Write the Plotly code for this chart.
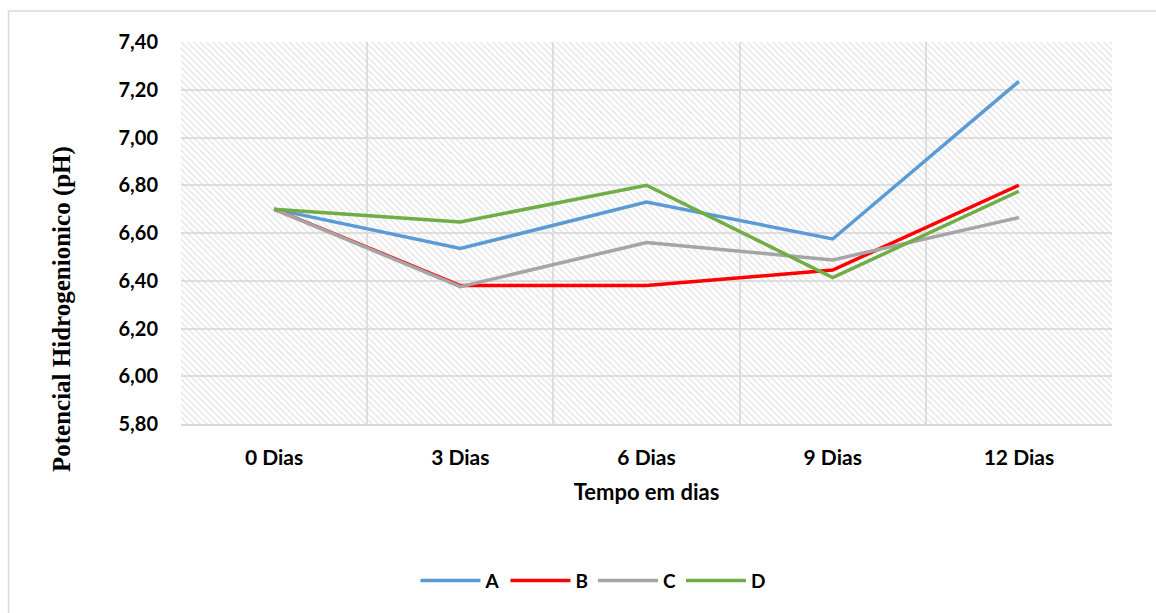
import plotly.graph_objects as go

categories = ["0 Dias", "3 Dias", "6 Dias", "9 Dias", "12 Dias"]
series_A = [6.70, 6.535, 6.73, 6.575, 7.235]
series_B = [6.70, 6.38, 6.38, 6.445, 6.80]
series_C = [6.70, 6.375, 6.56, 6.487, 6.665]
series_D = [6.70, 6.646, 6.80, 6.413, 6.775]
y_min, y_max = 5.80, 7.40

colors = {"A": "#5b9bd5", "B": "#ff0000", "C": "#a5a5a5", "D": "#70ad47"}

fig = go.Figure()

# hatched plot-area background
fig.add_trace(go.Bar(
    x=categories, y=[y_max - y_min] * len(categories), base=[y_min] * len(categories),
    width=1, showlegend=False, hoverinfo="skip",
    marker=dict(color="rgba(0,0,0,0)", line=dict(width=0),
                pattern=dict(shape="\\", fgcolor="#cfcfcf", bgcolor="rgba(255,255,255,0)",
                             size=4.5, solidity=0.35)),
))

for name, vals in [("A", series_A), ("B", series_B), ("C", series_C), ("D", series_D)]:
    fig.add_trace(go.Scatter(x=categories, y=vals, mode="lines", name=name,
                             line=dict(color=colors[name], width=3.5)))

fig.update_layout(
    width=1156, height=613,
    margin=dict(l=181, r=44, t=42, b=189),
    paper_bgcolor="white", plot_bgcolor="white",
    separators=",.",
    bargap=0,
    font=dict(family="Lato", color="black"),
    legend=dict(orientation="h", x=0.4425, xanchor="center", y=-0.41, yanchor="middle",
                font=dict(size=19, family="Lato", weight="bold"), traceorder="normal",
                itemwidth=60),
    shapes=[dict(type="rect", xref="paper", yref="paper", x0=-0.1853, x1=1.2, y0=-0.7, y1=1.081,
                 line=dict(color="#d9d9d9", width=1.5), fillcolor="rgba(0,0,0,0)", layer="below")],
    annotations=[dict(text="Potencial Hidrogenionico (pH)", textangle=-90,
                      xref="paper", yref="paper", x=-0.1278, y=0.301,
                      xanchor="center", yanchor="middle", showarrow=False,
                      font=dict(size=25, family="Liberation Serif", weight="bold", color="black"))],
)

fig.update_xaxes(
    type="category", range=[-0.5, 4.5], tickson="boundaries",
    showgrid=True, gridcolor="#e0e0e0", gridwidth=1.5,
    showline=True, linecolor="#d9d9d9", linewidth=2, ticks="",
    ticklabelstandoff=14,
    tickfont=dict(size=21, family="Lato", weight="bold"),
    title=dict(text="Tempo em dias", font=dict(size=22, family="Lato", weight="bold"), standoff=16),
)
fig.update_yaxes(
    range=[y_min, y_max], dtick=0.2, tickformat=".2f",
    showgrid=True, gridcolor="#e0e0e0", gridwidth=1.5, zeroline=False,
    showline=False, ticks="", ticklabelstandoff=22,
    tickfont=dict(size=20, family="Lato", weight="bold"),
)

fig.write_html("out.html")
